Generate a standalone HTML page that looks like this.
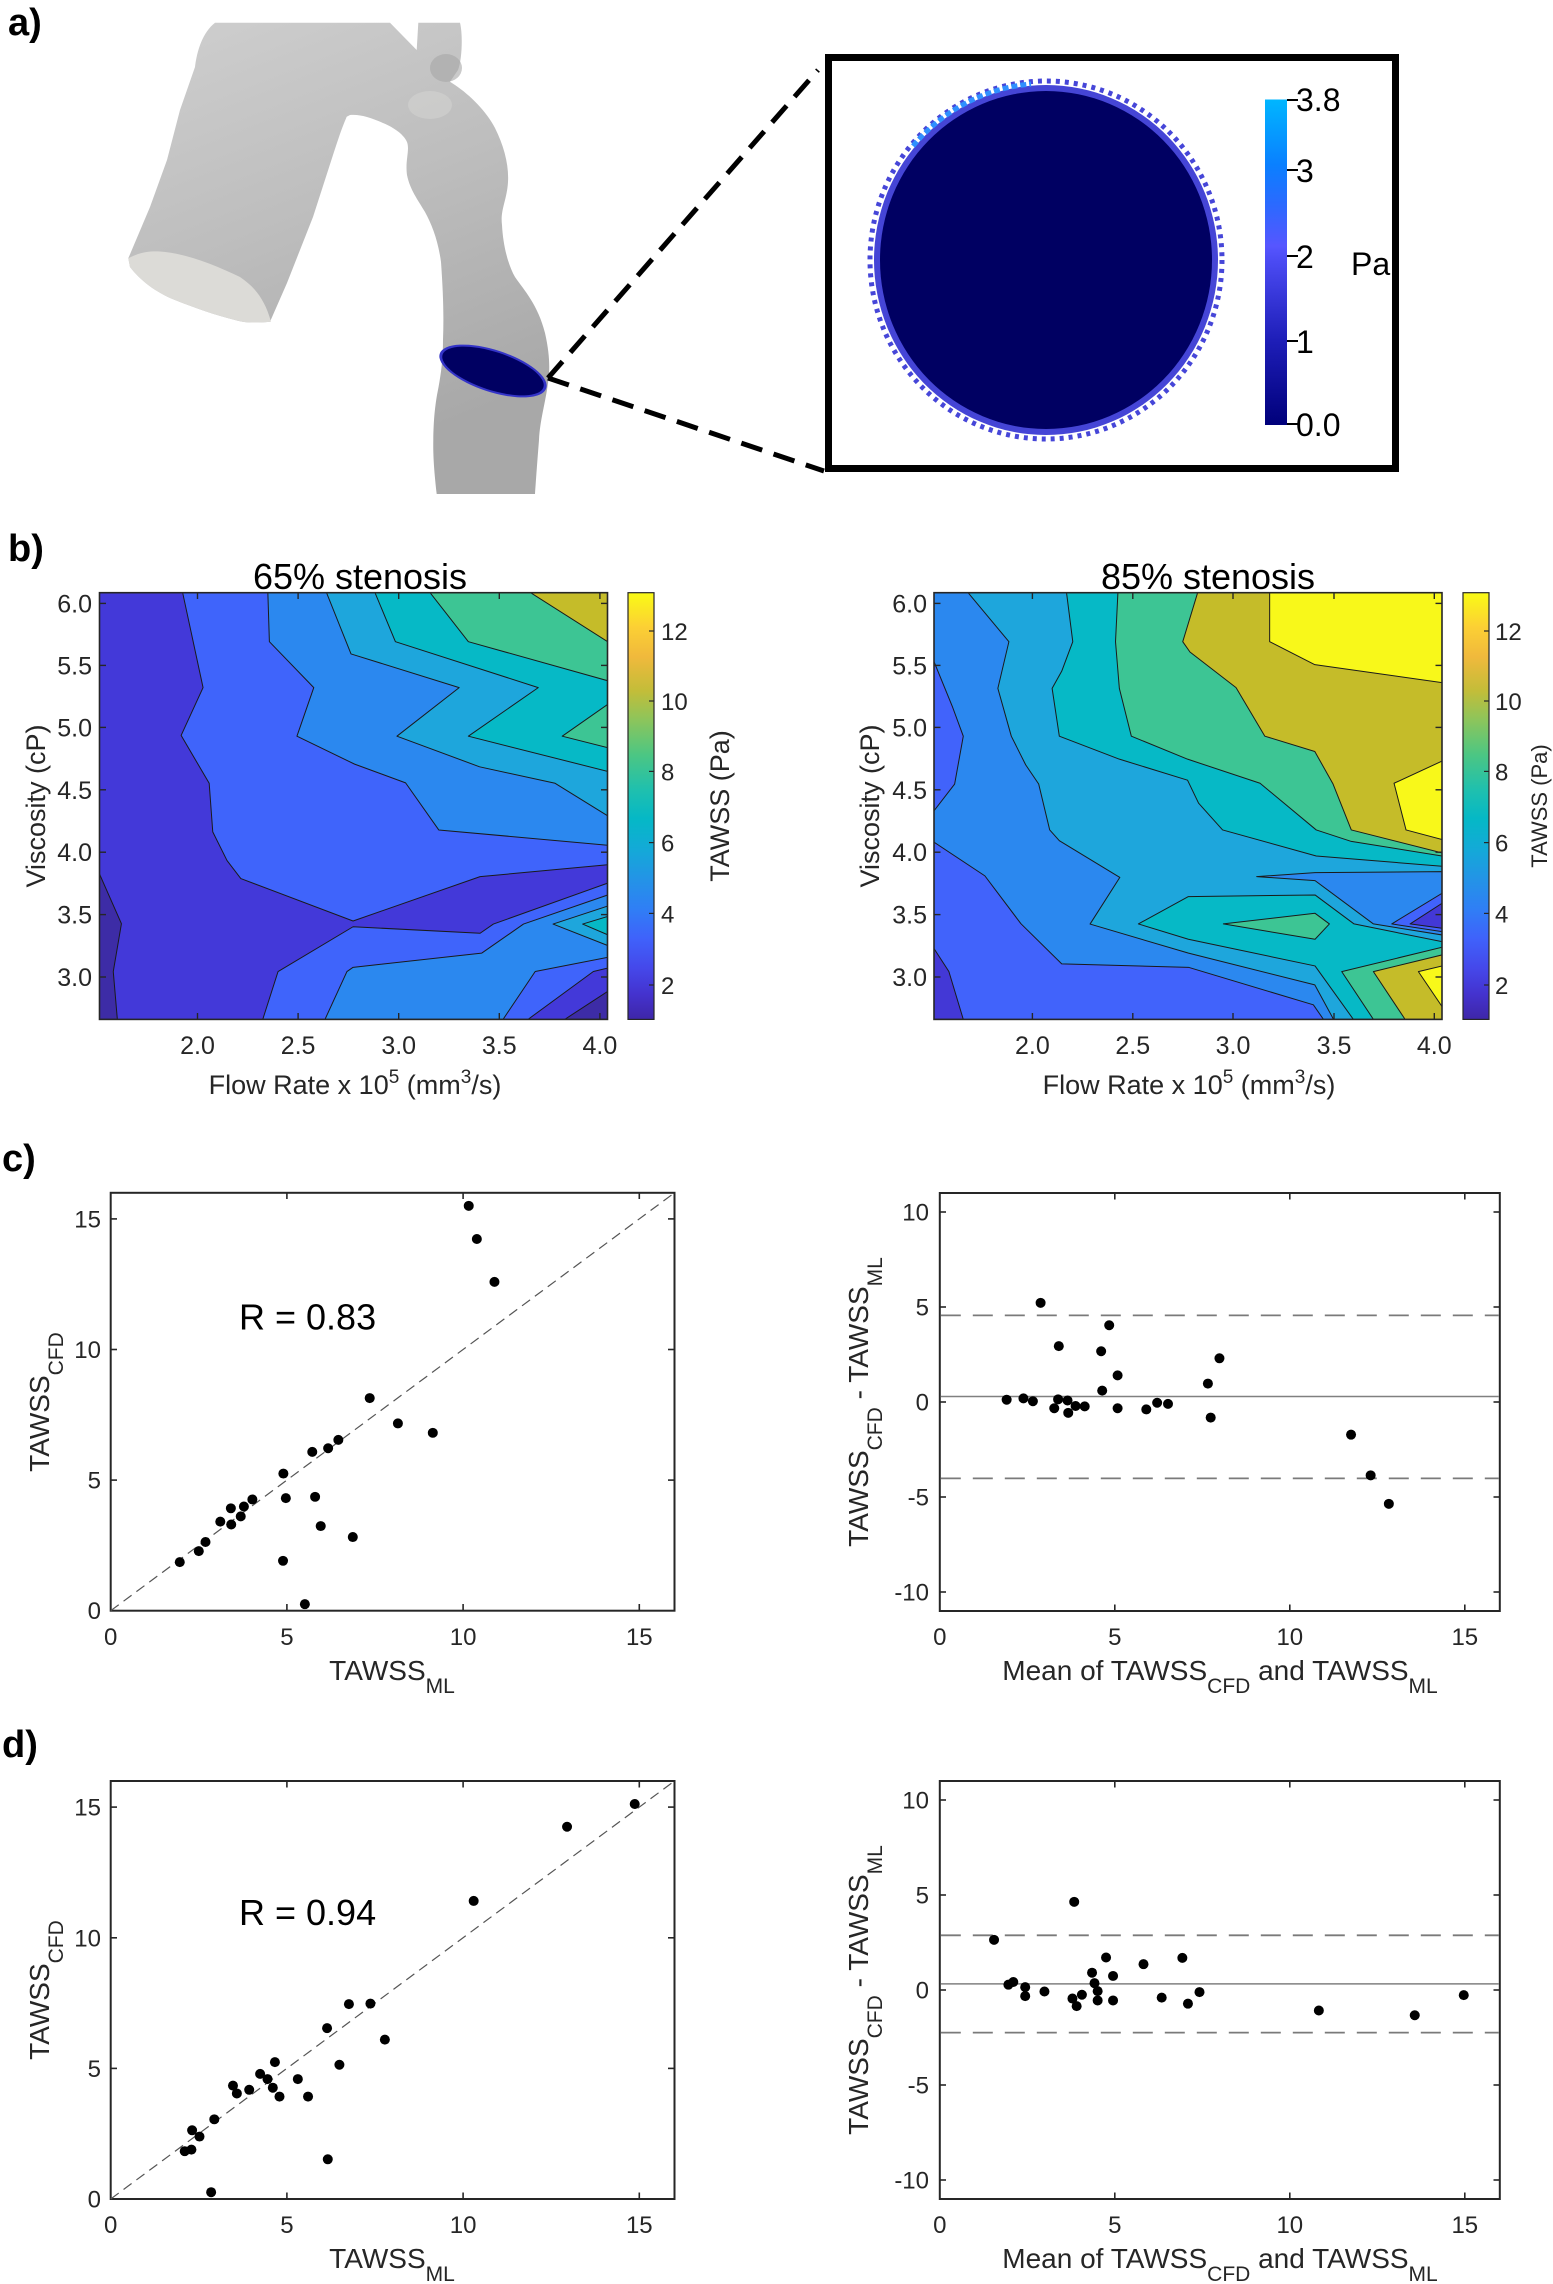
<!DOCTYPE html>
<html>
<head>
<meta charset="utf-8">
<style>
html,body{margin:0;padding:0;background:#fff;}
svg{display:block;}
text{font-family:"Liberation Sans",Arial,sans-serif;}
.tk{font-size:24px;fill:#262626;}
.tk2{font-size:25px;fill:#262626;}
.tkc{font-size:24px;fill:#262626;}
.lb{font-size:28px;fill:#262626;}
.pl{font-size:38px;font-weight:bold;fill:#000;}
</style>
</head>
<body>
<svg width="1553" height="2284" viewBox="0 0 1553 2284" xmlns="http://www.w3.org/2000/svg">
<defs>
  <linearGradient id="parula" x1="0" y1="1" x2="0" y2="0">
    <stop offset="0" stop-color="#3e26a8"/>
    <stop offset="0.06" stop-color="#4433cf"/>
    <stop offset="0.12" stop-color="#4548ea"/>
    <stop offset="0.19" stop-color="#3f62fb"/>
    <stop offset="0.26" stop-color="#2f7ff5"/>
    <stop offset="0.33" stop-color="#2394e6"/>
    <stop offset="0.40" stop-color="#13aad7"/>
    <stop offset="0.47" stop-color="#05b8c6"/>
    <stop offset="0.54" stop-color="#20c0ad"/>
    <stop offset="0.62" stop-color="#4cc683"/>
    <stop offset="0.70" stop-color="#8bc55c"/>
    <stop offset="0.77" stop-color="#c3bd39"/>
    <stop offset="0.85" stop-color="#f0b93c"/>
    <stop offset="0.92" stop-color="#fcd034"/>
    <stop offset="1" stop-color="#f9fb15"/>
  </linearGradient>
  <linearGradient id="cba" x1="0" y1="1" x2="0" y2="0">
    <stop offset="0" stop-color="#00007a"/>
    <stop offset="0.26" stop-color="#1e1eb8"/>
    <stop offset="0.50" stop-color="#4a4af2"/>
    <stop offset="0.55" stop-color="#5656ff"/>
    <stop offset="0.68" stop-color="#2a6aff"/>
    <stop offset="0.80" stop-color="#0a80ff"/>
    <stop offset="1" stop-color="#00b6ff"/>
  </linearGradient>
  <linearGradient id="vg" x1="0" y1="0" x2="0.35" y2="1">
    <stop offset="0" stop-color="#cfcfcf"/>
    <stop offset="0.5" stop-color="#bdbdbd"/>
    <stop offset="1" stop-color="#a8a8a8"/>
  </linearGradient>
  <clipPath id="clipL"><rect x="99.5" y="592.7" width="508" height="426.7"/></clipPath>
  <clipPath id="clipR"><rect x="934" y="592.7" width="508" height="426.7"/></clipPath>
</defs>

<!-- ================= PANEL A ================= -->
<text class="pl" x="8" y="35">a)</text>

<path d="M215,22.7 L390,22.7 L416.7,50 L418.3,22.7 L460,22.7 C463,35 462,60 458,70 L450,81.7 L455,85 C470,95 487,112 495,128 C504,146 509,165 508,182 C507,200 500,210 502,225 C503,245 508,265 515,277 C524,290 538,305 545,333 C550,355 550,370 548,383 C545,405 540,420 539,440 C537,465 536,480 535,494 L436.7,494 C434,470 433,455 433.3,440 C433.5,420 435,407 437,395 C441,375 443,360 443,340 C444,315 443,290 441,262 C438,240 432,225 425,212 C418,200 410,190 407,175 C405,160 410,150 407,142 C404,135 395,128 383,123 C372,118 360,114 350,115 L346.7,116.7 C341,130 338,140 333,155 L313,217 L287,283 L270,321.7 C255,323 245,323 235,320 C215,315 195,308 175,300 C155,292 140,280 130,267 L128.3,258.3 L150,207 L167,160 L180,110 L195,67 C197,50 203,32 215,22.7 Z" fill="url(#vg)"/>
<ellipse cx="446" cy="68" rx="16" ry="14" fill="#a6a6a6" opacity="0.6"/>
<ellipse cx="430" cy="105" rx="22" ry="14" fill="#d6d6d3" opacity="0.5"/>
<path d="M128.3,258.3 C140,252 150,251 160,251.5 C185,253 215,265 240,277 C255,287 265,300 271,321.7 C255,323 245,323 235,320 C215,315 195,308 175,300 C155,292 140,280 130,267 Z" fill="#dcdbd7"/>

<ellipse cx="493" cy="371" rx="56" ry="21" transform="rotate(18 493 371)" fill="#3434c8"/>
<ellipse cx="493" cy="371" rx="53" ry="19" transform="rotate(18 493 371)" fill="#000062"/>

<line x1="548" y1="378" x2="818" y2="70" stroke="#000" stroke-width="5" stroke-dasharray="22 12"/>
<line x1="548" y1="378" x2="824" y2="471" stroke="#000" stroke-width="5" stroke-dasharray="22 12"/>

<rect x="828.5" y="57.5" width="567" height="411" fill="#fff" stroke="#000" stroke-width="7"/>

<ellipse cx="1046" cy="260" rx="176" ry="179" fill="none" stroke="#4646d8" stroke-width="5" stroke-dasharray="4 5"/>
<ellipse cx="1046" cy="260" rx="172" ry="175" fill="#4545d6"/>
<ellipse cx="1046" cy="260" rx="166" ry="169" fill="#000062"/>
<path d="M913,146 A174,177 0 0,1 1031,84" fill="none" stroke="#2f90ff" stroke-width="5" stroke-dasharray="6 3"/>

<rect x="1265" y="99.5" width="22" height="325.5" fill="url(#cba)"/>
<g stroke="#000" stroke-width="2">
  <line x1="1287" y1="100" x2="1298" y2="100"/>
  <line x1="1287" y1="170" x2="1298" y2="170"/>
  <line x1="1287" y1="256" x2="1298" y2="256"/>
  <line x1="1287" y1="341" x2="1298" y2="341"/>
  <line x1="1287" y1="424" x2="1298" y2="424"/>
</g>
<g font-size="32" fill="#000">
  <text x="1296" y="111">3.8</text>
  <text x="1296" y="182">3</text>
  <text x="1296" y="268">2</text>
  <text x="1296" y="353">1</text>
  <text x="1296" y="436">0.0</text>
  <text x="1351" y="275">Pa</text>
</g>

<!-- ================= PANEL B ================= -->
<text class="pl" x="8" y="561">b)</text>

<!-- Left contour -->
<g clip-path="url(#clipL)">
<g transform="translate(0,520) scale(0.5102,0.38265)" stroke="#1a1a1a" stroke-width="1" stroke-linejoin="round">
  <rect x="195" y="190" width="996" height="1115" fill="#4339d9" stroke="none"/>
  <path vector-effect="non-scaling-stroke" fill="#3d2ca6" d="M195,925 L238,1055 L222,1180 L230,1305 L195,1305 Z"/>
  <path vector-effect="non-scaling-stroke" fill="#3d2ca6" d="M1107,1305 L1191,1232 L1191,1305 Z"/>
  <path vector-effect="non-scaling-stroke" fill="#3f64fb" d="M358,190 L398,438 L355,563 L410,688 L417,815 L445,890 L472,937 L692,1048 L941,932 L1191,901 L1191,190 Z"/>
  <path vector-effect="non-scaling-stroke" fill="#3f64fb" d="M515,1305 L545,1180 L692,1063 L941,1080 L967,1056 L1191,949 L1191,1171 L1163,1180 L1035,1305 Z"/>
  <path vector-effect="non-scaling-stroke" fill="#2b88ef" d="M525,190 L528,318 L615,438 L582,565 L695,638 L795,687 L860,810 L1191,850 L1191,190 Z"/>
  <path vector-effect="non-scaling-stroke" fill="#2b88ef" d="M637,1305 L680,1180 L692,1169 L944,1132 L1026,1056 L1191,980 L1191,1143 L1049,1180 L986,1305 Z"/>
  <path vector-effect="non-scaling-stroke" fill="#1ea6dc" d="M640,190 L688,350 L900,438 L778,565 L940,645 L1088,688 L1191,773 L1191,190 Z"/>
  <path vector-effect="non-scaling-stroke" fill="#1ea6dc" d="M1191,1009 L1084,1056 L1191,1112 Z"/>
  <path vector-effect="non-scaling-stroke" fill="#06b9c6" d="M735,190 L775,318 L1055,438 L918,565 L1191,657 L1191,190 Z"/>
  <path vector-effect="non-scaling-stroke" fill="#06b9c6" d="M1191,1036 L1142,1056 L1191,1084 Z"/>
  <path vector-effect="non-scaling-stroke" fill="#3dc594" d="M843,190 L918,318 L1191,420 L1191,190 Z"/>
  <path vector-effect="non-scaling-stroke" fill="#3dc594" d="M1191,482 L1102,565 L1191,595 Z"/>
  <path vector-effect="non-scaling-stroke" fill="#c5bc29" d="M1040,190 L1191,318 L1191,190 Z"/>
</g>
</g>
<rect x="99.5" y="592.7" width="508" height="426.7" fill="none" stroke="#262626" stroke-width="1.6"/>
<g stroke="#262626" stroke-width="1.4">
  <line x1="197.5" y1="1019.4" x2="197.5" y2="1013"/><line x1="298.1" y1="1019.4" x2="298.1" y2="1013"/>
  <line x1="398.7" y1="1019.4" x2="398.7" y2="1013"/><line x1="499.3" y1="1019.4" x2="499.3" y2="1013"/>
  <line x1="599.9" y1="1019.4" x2="599.9" y2="1013"/>
  <line x1="197.5" y1="592.7" x2="197.5" y2="599"/><line x1="298.1" y1="592.7" x2="298.1" y2="599"/>
  <line x1="398.7" y1="592.7" x2="398.7" y2="599"/><line x1="499.3" y1="592.7" x2="499.3" y2="599"/>
  <line x1="599.9" y1="592.7" x2="599.9" y2="599"/>
  <line x1="99.5" y1="603.4" x2="106" y2="603.4"/><line x1="99.5" y1="665.4" x2="106" y2="665.4"/>
  <line x1="99.5" y1="727.4" x2="106" y2="727.4"/><line x1="99.5" y1="789.8" x2="106" y2="789.8"/>
  <line x1="99.5" y1="852.2" x2="106" y2="852.2"/><line x1="99.5" y1="914.6" x2="106" y2="914.6"/>
  <line x1="99.5" y1="977" x2="106" y2="977"/>
  <line x1="607.5" y1="603.4" x2="601" y2="603.4"/><line x1="607.5" y1="665.4" x2="601" y2="665.4"/>
  <line x1="607.5" y1="727.4" x2="601" y2="727.4"/><line x1="607.5" y1="789.8" x2="601" y2="789.8"/>
  <line x1="607.5" y1="852.2" x2="601" y2="852.2"/><line x1="607.5" y1="914.6" x2="601" y2="914.6"/>
  <line x1="607.5" y1="977" x2="601" y2="977"/>
</g>
<rect x="628" y="592.7" width="26" height="426.7" fill="url(#parula)" stroke="#262626" stroke-width="1.2"/>
<g stroke="#262626" stroke-width="1.2">
  <line x1="654" y1="631" x2="649" y2="631"/><line x1="654" y1="701" x2="649" y2="701"/>
  <line x1="654" y1="771.4" x2="649" y2="771.4"/><line x1="654" y1="842.6" x2="649" y2="842.6"/>
  <line x1="654" y1="913.4" x2="649" y2="913.4"/><line x1="654" y1="985" x2="649" y2="985"/>
</g>
<g class="tk2" text-anchor="end">
  <text x="92" y="612.4">6.0</text><text x="92" y="674.4">5.5</text><text x="92" y="736.4">5.0</text>
  <text x="92" y="798.8">4.5</text><text x="92" y="861.2">4.0</text><text x="92" y="923.6">3.5</text>
  <text x="92" y="986">3.0</text>
</g>
<g class="tk2" text-anchor="middle">
  <text x="197.5" y="1054">2.0</text><text x="298.1" y="1054">2.5</text><text x="398.7" y="1054">3.0</text>
  <text x="499.3" y="1054">3.5</text><text x="599.9" y="1054">4.0</text>
</g>
<g class="tkc">
  <text x="661" y="640">12</text><text x="661" y="710">10</text><text x="661" y="780.4">8</text>
  <text x="661" y="851.6">6</text><text x="661" y="922.4">4</text><text x="661" y="994">2</text>
</g>
<text x="360" y="589" text-anchor="middle" font-size="36" fill="#000">65% stenosis</text>
<text transform="translate(45,806) rotate(-90)" text-anchor="middle" font-size="27" fill="#262626">Viscosity (cP)</text>
<text x="355" y="1094" text-anchor="middle" font-size="27" fill="#262626">Flow Rate x 10<tspan dy="-11" font-size="19">5</tspan><tspan dy="11"> (mm</tspan><tspan dy="-11" font-size="19">3</tspan><tspan dy="11">/s)</tspan></text>
<text transform="translate(729,806) rotate(-90)" text-anchor="middle" font-size="27" fill="#262626">TAWSS (Pa)</text>

<!-- Right contour -->
<g clip-path="url(#clipR)">
<g transform="translate(800,520) scale(0.48023,0.38265)" stroke="#1a1a1a" stroke-width="1" stroke-linejoin="round">
  <rect x="279" y="190" width="1058" height="1115" fill="#4163fb" stroke="none"/>
  <path vector-effect="non-scaling-stroke" fill="#4338d6" d="M279,1120 L310,1180 L340,1305 L279,1305 Z"/>
  <path vector-effect="non-scaling-stroke" fill="#2b88ef" d="M279,190 L1337,190 L1337,1305 L1090,1305 L1069,1267 L809,1169 L545,1160 L460,1055 L385,930 L279,842 L279,760 L322,690 L340,565 L318,490 L279,370 Z"/>
  <path vector-effect="non-scaling-stroke" fill="#1ea6dc" d="M350,190 L1337,190 L1337,1305 L1111,1305 L1072,1215 L809,1132 L604,1056 L666,934 L540,838 L520,810 L497,690 L470,640 L440,565 L412,440 L435,318 Z"/>
  <path vector-effect="non-scaling-stroke" fill="#06b9c6" d="M555,190 L1337,190 L1337,905 L1075,878 L880,810 L830,740 L807,680 L665,625 L540,565 L525,440 L545,395 L568,318 Z"/>
  <path vector-effect="non-scaling-stroke" fill="#06b9c6" d="M704.6,1055.6 L808.7,984.2 L1072.5,979.9 L1153.7,1055.6 L1337,1102 L1337,1305 L1152.3,1305 L1072.5,1165.4 L808.7,1095.7 Z"/>
  <path vector-effect="non-scaling-stroke" fill="#3dc594" d="M881.6,1055.6 L1072.5,1027.8 L1102.4,1055.6 L1072.5,1095.7 Z"/>
  <path vector-effect="non-scaling-stroke" fill="#3dc594" d="M1128.1,1180.2 L1337,1116.6 L1337,1305 L1194,1305 Z"/>
  <path vector-effect="non-scaling-stroke" fill="#c5bc29" d="M1194,1180.2 L1337,1136.6 L1337,1305 L1260,1305 Z"/>
  <path vector-effect="non-scaling-stroke" fill="#f8f81a" d="M1287.7,1180.2 L1337,1165.4 L1337,1271.6 Z"/>
  <path vector-effect="non-scaling-stroke" fill="#2b88ef" d="M951,932 L1072.5,921.5 L1337,918.9 L1337,1084.4 L1194,1055.6 L1072.5,942.4 Z"/>
  <path vector-effect="non-scaling-stroke" fill="#4163fb" d="M1232.2,1055.6 L1337,975.5 L1337,1075.7 Z"/>
  <path vector-effect="non-scaling-stroke" fill="#4338d6" d="M1270.4,1055.6 L1337,1001.6 L1337,1067 Z"/>
  <path vector-effect="non-scaling-stroke" fill="#3dc594" d="M662,190 L1337,190 L1337,878 L1148,840 L1075,810 L958,688 L807,625 L690,565 L665,440 L657,318 Z"/>
  <path vector-effect="non-scaling-stroke" fill="#c5bc29" d="M828,190 L1337,190 L1337,870 L1148,810 L1110,690 L1072,605 L968,565 L908,438 L812,345 L797,318 Z"/>
  <path vector-effect="non-scaling-stroke" fill="#f8f81a" d="M978,190 L1337,190 L1337,425 L1072,378 L978,318 Z"/>
  <path vector-effect="non-scaling-stroke" fill="#f8f81a" d="M1337,630 L1237,688 L1262,810 L1337,835 Z"/>
</g>
</g>
<rect x="934" y="592.7" width="508" height="426.7" fill="none" stroke="#262626" stroke-width="1.6"/>
<g stroke="#262626" stroke-width="1.4">
  <line x1="1032.4" y1="1019.4" x2="1032.4" y2="1013"/><line x1="1132.8" y1="1019.4" x2="1132.8" y2="1013"/>
  <line x1="1233" y1="1019.4" x2="1233" y2="1013"/><line x1="1334" y1="1019.4" x2="1334" y2="1013"/>
  <line x1="1434.3" y1="1019.4" x2="1434.3" y2="1013"/>
  <line x1="1032.4" y1="592.7" x2="1032.4" y2="599"/><line x1="1132.8" y1="592.7" x2="1132.8" y2="599"/>
  <line x1="1233" y1="592.7" x2="1233" y2="599"/><line x1="1334" y1="592.7" x2="1334" y2="599"/>
  <line x1="1434.3" y1="592.7" x2="1434.3" y2="599"/>
  <line x1="934" y1="603.4" x2="940.5" y2="603.4"/><line x1="934" y1="665.4" x2="940.5" y2="665.4"/>
  <line x1="934" y1="727.4" x2="940.5" y2="727.4"/><line x1="934" y1="789.8" x2="940.5" y2="789.8"/>
  <line x1="934" y1="852.2" x2="940.5" y2="852.2"/><line x1="934" y1="914.6" x2="940.5" y2="914.6"/>
  <line x1="934" y1="977" x2="940.5" y2="977"/>
  <line x1="1442" y1="603.4" x2="1435.5" y2="603.4"/><line x1="1442" y1="665.4" x2="1435.5" y2="665.4"/>
  <line x1="1442" y1="727.4" x2="1435.5" y2="727.4"/><line x1="1442" y1="789.8" x2="1435.5" y2="789.8"/>
  <line x1="1442" y1="852.2" x2="1435.5" y2="852.2"/><line x1="1442" y1="914.6" x2="1435.5" y2="914.6"/>
  <line x1="1442" y1="977" x2="1435.5" y2="977"/>
</g>
<rect x="1463" y="592.7" width="26" height="426.7" fill="url(#parula)" stroke="#262626" stroke-width="1.2"/>
<g stroke="#262626" stroke-width="1.2">
  <line x1="1489" y1="631" x2="1484" y2="631"/><line x1="1489" y1="701" x2="1484" y2="701"/>
  <line x1="1489" y1="771.4" x2="1484" y2="771.4"/><line x1="1489" y1="842.6" x2="1484" y2="842.6"/>
  <line x1="1489" y1="913.4" x2="1484" y2="913.4"/><line x1="1489" y1="985" x2="1484" y2="985"/>
</g>
<g class="tk2" text-anchor="end">
  <text x="927" y="612.4">6.0</text><text x="927" y="674.4">5.5</text><text x="927" y="736.4">5.0</text>
  <text x="927" y="798.8">4.5</text><text x="927" y="861.2">4.0</text><text x="927" y="923.6">3.5</text>
  <text x="927" y="986">3.0</text>
</g>
<g class="tk2" text-anchor="middle">
  <text x="1032.4" y="1054">2.0</text><text x="1132.8" y="1054">2.5</text><text x="1233" y="1054">3.0</text>
  <text x="1334" y="1054">3.5</text><text x="1434.3" y="1054">4.0</text>
</g>
<g class="tkc">
  <text x="1495" y="640">12</text><text x="1495" y="710">10</text><text x="1495" y="780.4">8</text>
  <text x="1495" y="851.6">6</text><text x="1495" y="922.4">4</text><text x="1495" y="994">2</text>
</g>
<text x="1208" y="589" text-anchor="middle" font-size="36" fill="#000">85% stenosis</text>
<text transform="translate(879,806) rotate(-90)" text-anchor="middle" font-size="27" fill="#262626">Viscosity (cP)</text>
<text x="1189" y="1094" text-anchor="middle" font-size="27" fill="#262626">Flow Rate x 10<tspan dy="-11" font-size="19">5</tspan><tspan dy="11"> (mm</tspan><tspan dy="-11" font-size="19">3</tspan><tspan dy="11">/s)</tspan></text>
<text transform="translate(1547,806) rotate(-90)" text-anchor="middle" font-size="22" fill="#262626">TAWSS (Pa)</text>

<!-- ================= PANEL C ================= -->
<text class="pl" x="2" y="1171">c)</text>

<!-- c-left scatter -->
<rect x="110.7" y="1192.8" width="563.8" height="417.9" fill="#fff" stroke="#262626" stroke-width="2"/>
<line x1="110.7" y1="1610.7" x2="674.5" y2="1192.8" stroke="#555" stroke-width="1.2" stroke-dasharray="10 6"/>
<g stroke="#262626" stroke-width="1.6">
  <line x1="286.9" y1="1610.7" x2="286.9" y2="1604"/><line x1="463.1" y1="1610.7" x2="463.1" y2="1604"/><line x1="639.3" y1="1610.7" x2="639.3" y2="1604"/>
  <line x1="286.9" y1="1192.8" x2="286.9" y2="1199"/><line x1="463.1" y1="1192.8" x2="463.1" y2="1199"/><line x1="639.3" y1="1192.8" x2="639.3" y2="1199"/>
  <line x1="110.7" y1="1480.1" x2="117" y2="1480.1"/><line x1="110.7" y1="1349.5" x2="117" y2="1349.5"/><line x1="110.7" y1="1218.9" x2="117" y2="1218.9"/>
  <line x1="674.5" y1="1480.1" x2="668" y2="1480.1"/><line x1="674.5" y1="1349.5" x2="668" y2="1349.5"/><line x1="674.5" y1="1218.9" x2="668" y2="1218.9"/>
</g>
<g transform="translate(110.7,1610.7) scale(35.24,-26.12)" fill="#000">
  <ellipse cx="10.16" cy="15.5" rx="0.142" ry="0.191"/><ellipse cx="10.39" cy="14.23" rx="0.142" ry="0.191"/>
  <ellipse cx="10.89" cy="12.59" rx="0.142" ry="0.191"/><ellipse cx="7.35" cy="8.14" rx="0.142" ry="0.191"/>
  <ellipse cx="8.15" cy="7.17" rx="0.142" ry="0.191"/><ellipse cx="9.14" cy="6.81" rx="0.142" ry="0.191"/>
  <ellipse cx="6.46" cy="6.54" rx="0.142" ry="0.191"/><ellipse cx="6.17" cy="6.22" rx="0.142" ry="0.191"/>
  <ellipse cx="5.72" cy="6.08" rx="0.142" ry="0.191"/><ellipse cx="4.90" cy="5.25" rx="0.142" ry="0.191"/>
  <ellipse cx="4.97" cy="4.31" rx="0.142" ry="0.191"/><ellipse cx="5.80" cy="4.36" rx="0.142" ry="0.191"/>
  <ellipse cx="4.02" cy="4.26" rx="0.142" ry="0.191"/><ellipse cx="3.78" cy="3.99" rx="0.142" ry="0.191"/>
  <ellipse cx="3.41" cy="3.92" rx="0.142" ry="0.191"/><ellipse cx="3.69" cy="3.61" rx="0.142" ry="0.191"/>
  <ellipse cx="3.11" cy="3.41" rx="0.142" ry="0.191"/><ellipse cx="3.42" cy="3.30" rx="0.142" ry="0.191"/>
  <ellipse cx="5.96" cy="3.24" rx="0.142" ry="0.191"/><ellipse cx="6.87" cy="2.82" rx="0.142" ry="0.191"/>
  <ellipse cx="2.69" cy="2.63" rx="0.142" ry="0.191"/><ellipse cx="2.50" cy="2.28" rx="0.142" ry="0.191"/>
  <ellipse cx="1.96" cy="1.86" rx="0.142" ry="0.191"/><ellipse cx="4.89" cy="1.91" rx="0.142" ry="0.191"/>
  <ellipse cx="5.51" cy="0.25" rx="0.142" ry="0.191"/>
</g>
<g class="tk" text-anchor="end">
  <text x="101" y="1619">0</text><text x="101" y="1488.5">5</text><text x="101" y="1358">10</text><text x="101" y="1227.5">15</text>
</g>
<g class="tk" text-anchor="middle">
  <text x="110.7" y="1645">0</text><text x="286.9" y="1645">5</text><text x="463.1" y="1645">10</text><text x="639.3" y="1645">15</text>
</g>
<text class="lb" x="392" y="1680" text-anchor="middle">TAWSS<tspan dy="13" font-size="21">ML</tspan></text>
<text class="lb" transform="translate(49,1402) rotate(-90)" text-anchor="middle">TAWSS<tspan dy="14" font-size="21">CFD</tspan></text>
<text x="239" y="1329.5" font-size="36" fill="#000">R = 0.83</text>

<!-- c-right Bland-Altman -->
<rect x="939.8" y="1193" width="560" height="418" fill="#fff" stroke="#262626" stroke-width="2"/>
<line x1="940.8" y1="1315.4" x2="1498.8" y2="1315.4" stroke="#7a7a7a" stroke-width="1.8" stroke-dasharray="20 12"/>
<line x1="940.8" y1="1478.4" x2="1498.8" y2="1478.4" stroke="#7a7a7a" stroke-width="1.8" stroke-dasharray="20 12"/>
<line x1="940.8" y1="1396.5" x2="1498.8" y2="1396.5" stroke="#808080" stroke-width="1.5"/>
<g stroke="#262626" stroke-width="1.6">
  <line x1="1114.8" y1="1611" x2="1114.8" y2="1604.5"/><line x1="1289.8" y1="1611" x2="1289.8" y2="1604.5"/><line x1="1464.8" y1="1611" x2="1464.8" y2="1604.5"/>
  <line x1="1114.8" y1="1193" x2="1114.8" y2="1199.5"/><line x1="1289.8" y1="1193" x2="1289.8" y2="1199.5"/><line x1="1464.8" y1="1193" x2="1464.8" y2="1199.5"/>
  <line x1="939.8" y1="1592" x2="946" y2="1592"/><line x1="939.8" y1="1497" x2="946" y2="1497"/><line x1="939.8" y1="1402" x2="946" y2="1402"/><line x1="939.8" y1="1307" x2="946" y2="1307"/><line x1="939.8" y1="1212" x2="946" y2="1212"/>
  <line x1="1499.8" y1="1592" x2="1493.5" y2="1592"/><line x1="1499.8" y1="1497" x2="1493.5" y2="1497"/><line x1="1499.8" y1="1402" x2="1493.5" y2="1402"/><line x1="1499.8" y1="1307" x2="1493.5" y2="1307"/><line x1="1499.8" y1="1212" x2="1493.5" y2="1212"/>
</g>
<g transform="translate(939.8,1402) scale(35,-19)" fill="#000">
  <ellipse cx="2.88" cy="5.22" rx="0.143" ry="0.263"/><ellipse cx="4.84" cy="4.04" rx="0.143" ry="0.263"/>
  <ellipse cx="3.40" cy="2.94" rx="0.143" ry="0.263"/><ellipse cx="4.61" cy="2.67" rx="0.143" ry="0.263"/>
  <ellipse cx="7.99" cy="2.30" rx="0.143" ry="0.263"/><ellipse cx="5.08" cy="1.40" rx="0.143" ry="0.263"/>
  <ellipse cx="7.66" cy="0.97" rx="0.143" ry="0.263"/><ellipse cx="4.64" cy="0.60" rx="0.143" ry="0.263"/>
  <ellipse cx="1.91" cy="0.12" rx="0.143" ry="0.263"/><ellipse cx="2.39" cy="0.19" rx="0.143" ry="0.263"/>
  <ellipse cx="2.66" cy="0.04" rx="0.143" ry="0.263"/><ellipse cx="3.38" cy="0.14" rx="0.143" ry="0.263"/>
  <ellipse cx="3.65" cy="0.08" rx="0.143" ry="0.263"/><ellipse cx="3.27" cy="-0.33" rx="0.143" ry="0.263"/>
  <ellipse cx="3.67" cy="-0.57" rx="0.143" ry="0.263"/><ellipse cx="3.88" cy="-0.21" rx="0.143" ry="0.263"/>
  <ellipse cx="4.14" cy="-0.23" rx="0.143" ry="0.263"/><ellipse cx="5.08" cy="-0.33" rx="0.143" ry="0.263"/>
  <ellipse cx="5.90" cy="-0.39" rx="0.143" ry="0.263"/><ellipse cx="6.21" cy="-0.04" rx="0.143" ry="0.263"/>
  <ellipse cx="6.52" cy="-0.10" rx="0.143" ry="0.263"/><ellipse cx="7.74" cy="-0.82" rx="0.143" ry="0.263"/>
  <ellipse cx="11.75" cy="-1.72" rx="0.143" ry="0.263"/><ellipse cx="12.31" cy="-3.86" rx="0.143" ry="0.263"/>
  <ellipse cx="12.83" cy="-5.36" rx="0.143" ry="0.263"/>
</g>
<g class="tk" text-anchor="end">
  <text x="929" y="1600.5">-10</text><text x="929" y="1505.5">-5</text><text x="929" y="1410.5">0</text><text x="929" y="1315.5">5</text><text x="929" y="1220.5">10</text>
</g>
<g class="tk" text-anchor="middle">
  <text x="939.8" y="1645">0</text><text x="1114.8" y="1645">5</text><text x="1289.8" y="1645">10</text><text x="1464.8" y="1645">15</text>
</g>
<text class="lb" x="1220" y="1680" text-anchor="middle">Mean of TAWSS<tspan dy="13" font-size="21">CFD</tspan><tspan dy="-13"> and TAWSS</tspan><tspan dy="13" font-size="21">ML</tspan></text>
<text class="lb" transform="translate(868,1402) rotate(-90)" text-anchor="middle">TAWSS<tspan dy="14" font-size="21">CFD</tspan><tspan dy="-14"> - TAWSS</tspan><tspan dy="14" font-size="21">ML</tspan></text>

<!-- ================= PANEL D ================= -->
<text class="pl" x="2" y="1757">d)</text>

<!-- d-left scatter -->
<rect x="110.7" y="1781" width="563.8" height="418" fill="#fff" stroke="#262626" stroke-width="2"/>
<line x1="110.7" y1="2199" x2="674.5" y2="1781" stroke="#555" stroke-width="1.2" stroke-dasharray="10 6"/>
<g stroke="#262626" stroke-width="1.6">
  <line x1="286.9" y1="2199" x2="286.9" y2="2192.5"/><line x1="463.1" y1="2199" x2="463.1" y2="2192.5"/><line x1="639.3" y1="2199" x2="639.3" y2="2192.5"/>
  <line x1="286.9" y1="1781" x2="286.9" y2="1787.5"/><line x1="463.1" y1="1781" x2="463.1" y2="1787.5"/><line x1="639.3" y1="1781" x2="639.3" y2="1787.5"/>
  <line x1="110.7" y1="2068.4" x2="117" y2="2068.4"/><line x1="110.7" y1="1937.8" x2="117" y2="1937.8"/><line x1="110.7" y1="1807.1" x2="117" y2="1807.1"/>
  <line x1="674.5" y1="2068.4" x2="668" y2="2068.4"/><line x1="674.5" y1="1937.8" x2="668" y2="1937.8"/><line x1="674.5" y1="1807.1" x2="668" y2="1807.1"/>
</g>
<g transform="translate(110.7,2199) scale(35.24,-26.125)" fill="#000">
  <ellipse cx="14.87" cy="15.12" rx="0.142" ry="0.191"/><ellipse cx="12.95" cy="14.25" rx="0.142" ry="0.191"/>
  <ellipse cx="10.30" cy="11.41" rx="0.142" ry="0.191"/><ellipse cx="6.76" cy="7.46" rx="0.142" ry="0.191"/>
  <ellipse cx="7.37" cy="7.48" rx="0.142" ry="0.191"/><ellipse cx="6.14" cy="6.54" rx="0.142" ry="0.191"/>
  <ellipse cx="7.78" cy="6.10" rx="0.142" ry="0.191"/><ellipse cx="4.66" cy="5.24" rx="0.142" ry="0.191"/>
  <ellipse cx="6.49" cy="5.14" rx="0.142" ry="0.191"/><ellipse cx="4.24" cy="4.79" rx="0.142" ry="0.191"/>
  <ellipse cx="4.45" cy="4.59" rx="0.142" ry="0.191"/><ellipse cx="5.31" cy="4.59" rx="0.142" ry="0.191"/>
  <ellipse cx="3.47" cy="4.34" rx="0.142" ry="0.191"/><ellipse cx="4.60" cy="4.26" rx="0.142" ry="0.191"/>
  <ellipse cx="3.93" cy="4.18" rx="0.142" ry="0.191"/><ellipse cx="3.58" cy="4.04" rx="0.142" ry="0.191"/>
  <ellipse cx="4.79" cy="3.92" rx="0.142" ry="0.191"/><ellipse cx="5.60" cy="3.92" rx="0.142" ry="0.191"/>
  <ellipse cx="2.94" cy="3.05" rx="0.142" ry="0.191"/><ellipse cx="2.31" cy="2.63" rx="0.142" ry="0.191"/>
  <ellipse cx="2.52" cy="2.39" rx="0.142" ry="0.191"/><ellipse cx="2.10" cy="1.83" rx="0.142" ry="0.191"/>
  <ellipse cx="2.29" cy="1.89" rx="0.142" ry="0.191"/><ellipse cx="6.16" cy="1.52" rx="0.142" ry="0.191"/>
  <ellipse cx="2.85" cy="0.26" rx="0.142" ry="0.191"/>
</g>
<g class="tk" text-anchor="end">
  <text x="101" y="2207.5">0</text><text x="101" y="2077">5</text><text x="101" y="1946.5">10</text><text x="101" y="1815.5">15</text>
</g>
<g class="tk" text-anchor="middle">
  <text x="110.7" y="2233">0</text><text x="286.9" y="2233">5</text><text x="463.1" y="2233">10</text><text x="639.3" y="2233">15</text>
</g>
<text class="lb" x="392" y="2268" text-anchor="middle">TAWSS<tspan dy="13" font-size="21">ML</tspan></text>
<text class="lb" transform="translate(49,1990) rotate(-90)" text-anchor="middle">TAWSS<tspan dy="14" font-size="21">CFD</tspan></text>
<text x="239" y="1925" font-size="36" fill="#000">R = 0.94</text>

<!-- d-right Bland-Altman -->
<rect x="939.8" y="1781" width="560" height="418" fill="#fff" stroke="#262626" stroke-width="2"/>
<line x1="940.8" y1="1935.3" x2="1498.8" y2="1935.3" stroke="#7a7a7a" stroke-width="1.8" stroke-dasharray="20 12"/>
<line x1="940.8" y1="2032.6" x2="1498.8" y2="2032.6" stroke="#7a7a7a" stroke-width="1.8" stroke-dasharray="20 12"/>
<line x1="940.8" y1="1983.9" x2="1498.8" y2="1983.9" stroke="#808080" stroke-width="1.5"/>
<g stroke="#262626" stroke-width="1.6">
  <line x1="1114.8" y1="2199" x2="1114.8" y2="2192.5"/><line x1="1289.8" y1="2199" x2="1289.8" y2="2192.5"/><line x1="1464.8" y1="2199" x2="1464.8" y2="2192.5"/>
  <line x1="1114.8" y1="1781" x2="1114.8" y2="1787.5"/><line x1="1289.8" y1="1781" x2="1289.8" y2="1787.5"/><line x1="1464.8" y1="1781" x2="1464.8" y2="1787.5"/>
  <line x1="939.8" y1="2180" x2="946" y2="2180"/><line x1="939.8" y1="2085" x2="946" y2="2085"/><line x1="939.8" y1="1990" x2="946" y2="1990"/><line x1="939.8" y1="1895" x2="946" y2="1895"/><line x1="939.8" y1="1800" x2="946" y2="1800"/>
  <line x1="1499.8" y1="2180" x2="1493.5" y2="2180"/><line x1="1499.8" y1="2085" x2="1493.5" y2="2085"/><line x1="1499.8" y1="1990" x2="1493.5" y2="1990"/><line x1="1499.8" y1="1895" x2="1493.5" y2="1895"/><line x1="1499.8" y1="1800" x2="1493.5" y2="1800"/>
</g>
<g transform="translate(939.8,1990) scale(35,-19)" fill="#000">
  <ellipse cx="3.84" cy="4.64" rx="0.143" ry="0.263"/><ellipse cx="1.55" cy="2.64" rx="0.143" ry="0.263"/>
  <ellipse cx="4.75" cy="1.71" rx="0.143" ry="0.263"/><ellipse cx="6.93" cy="1.69" rx="0.143" ry="0.263"/>
  <ellipse cx="5.82" cy="1.36" rx="0.143" ry="0.263"/><ellipse cx="4.35" cy="0.91" rx="0.143" ry="0.263"/>
  <ellipse cx="4.95" cy="0.74" rx="0.143" ry="0.263"/><ellipse cx="4.42" cy="0.36" rx="0.143" ry="0.263"/>
  <ellipse cx="1.96" cy="0.28" rx="0.143" ry="0.263"/><ellipse cx="2.10" cy="0.42" rx="0.143" ry="0.263"/>
  <ellipse cx="2.44" cy="0.15" rx="0.143" ry="0.263"/><ellipse cx="2.44" cy="-0.32" rx="0.143" ry="0.263"/>
  <ellipse cx="2.99" cy="-0.08" rx="0.143" ry="0.263"/><ellipse cx="4.51" cy="-0.06" rx="0.143" ry="0.263"/>
  <ellipse cx="4.06" cy="-0.25" rx="0.143" ry="0.263"/><ellipse cx="3.79" cy="-0.45" rx="0.143" ry="0.263"/>
  <ellipse cx="3.91" cy="-0.85" rx="0.143" ry="0.263"/><ellipse cx="4.51" cy="-0.55" rx="0.143" ry="0.263"/>
  <ellipse cx="4.95" cy="-0.55" rx="0.143" ry="0.263"/><ellipse cx="6.34" cy="-0.40" rx="0.143" ry="0.263"/>
  <ellipse cx="7.09" cy="-0.72" rx="0.143" ry="0.263"/><ellipse cx="7.42" cy="-0.11" rx="0.143" ry="0.263"/>
  <ellipse cx="10.83" cy="-1.08" rx="0.143" ry="0.263"/><ellipse cx="13.57" cy="-1.33" rx="0.143" ry="0.263"/>
  <ellipse cx="14.97" cy="-0.27" rx="0.143" ry="0.263"/>
</g>
<g class="tk" text-anchor="end">
  <text x="929" y="2188.5">-10</text><text x="929" y="2093.5">-5</text><text x="929" y="1998.5">0</text><text x="929" y="1903.5">5</text><text x="929" y="1808.5">10</text>
</g>
<g class="tk" text-anchor="middle">
  <text x="939.8" y="2233">0</text><text x="1114.8" y="2233">5</text><text x="1289.8" y="2233">10</text><text x="1464.8" y="2233">15</text>
</g>
<text class="lb" x="1220" y="2268" text-anchor="middle">Mean of TAWSS<tspan dy="13" font-size="21">CFD</tspan><tspan dy="-13"> and TAWSS</tspan><tspan dy="13" font-size="21">ML</tspan></text>
<text class="lb" transform="translate(868,1990) rotate(-90)" text-anchor="middle">TAWSS<tspan dy="14" font-size="21">CFD</tspan><tspan dy="-14"> - TAWSS</tspan><tspan dy="14" font-size="21">ML</tspan></text>
</svg>
</body>
</html>
